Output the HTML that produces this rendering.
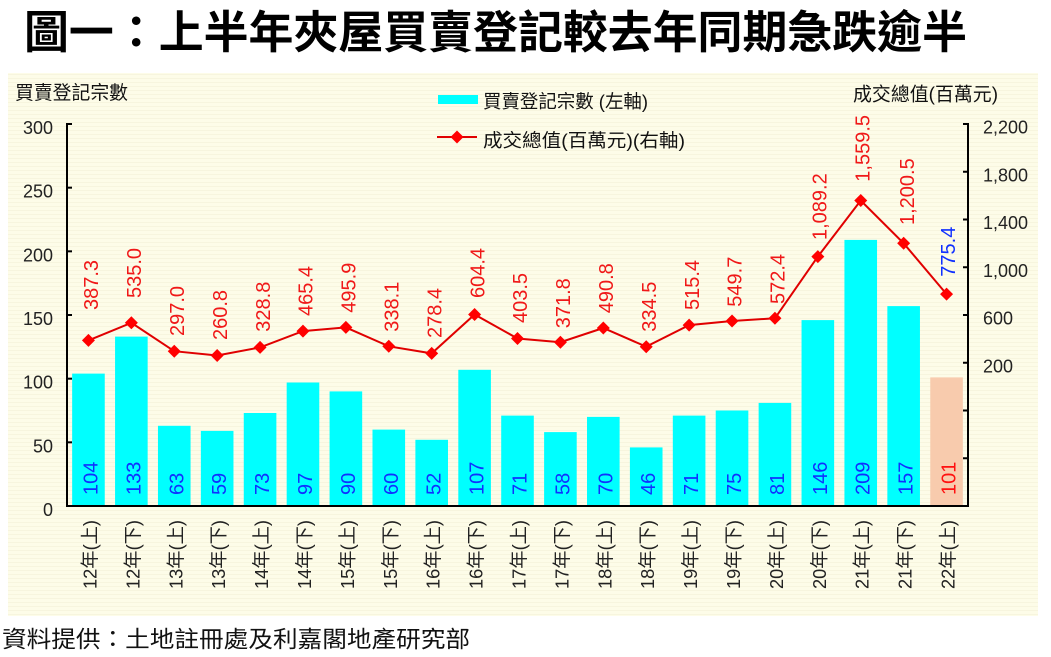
<!DOCTYPE html>
<html>
<head>
<meta charset="utf-8">
<style>
html,body{margin:0;padding:0;background:#fff;}
body{width:1051px;height:657px;overflow:hidden;}
svg{display:block;}
text{font-family:"Liberation Sans","Noto Sans CJK TC",sans-serif;}
</style>
</head>
<body>
<svg width="1051" height="657" viewBox="0 0 1051 657" xmlns="http://www.w3.org/2000/svg">
<defs>
<pattern id="stripe" width="4" height="4" patternUnits="userSpaceOnUse">
<rect width="4" height="4" fill="#FDFCE8"/>
<rect y="2" width="4" height="1" fill="#F7F5DE"/>
</pattern>
</defs>
<rect x="0" y="0" width="1051" height="657" fill="#ffffff"/>
<!-- Title -->
<text x="24" y="48" font-size="45" font-weight="bold" fill="#000" textLength="943" lengthAdjust="spacingAndGlyphs" style="font-family:'Noto Sans CJK TC','Noto Sans CJK SC',sans-serif;">圖一：上半年夾屋買賣登記較去年同期急跌逾半</text>
<!-- Panel -->
<rect x="8" y="73" width="1030" height="543" fill="url(#stripe)"/>

<!-- Axis titles -->
<text x="15" y="99" font-size="19" fill="#111" textLength="113" lengthAdjust="spacingAndGlyphs">買賣登記宗數</text>
<text x="853" y="100.5" font-size="19" fill="#111" textLength="145" lengthAdjust="spacingAndGlyphs">成交總值(百萬元)</text>

<!-- Legend -->
<rect x="438" y="95" width="40" height="9" fill="#00FFFF"/>
<text x="483" y="108" font-size="18.5" fill="#111" textLength="165" lengthAdjust="spacingAndGlyphs">買賣登記宗數 (左軸)</text>
<line x1="437" y1="137" x2="477" y2="137" stroke="#E00000" stroke-width="2"/>
<polygon points="457,130.5 463.5,137 457,143.5 450.5,137" fill="#FF0000"/>
<text x="483" y="147" font-size="18.5" fill="#111" textLength="202" lengthAdjust="spacingAndGlyphs">成交總值(百萬元)(右軸)</text>

<!-- Bars -->
<g fill="#00FFFF">
<rect x="72.15" y="373.6" width="32.6" height="132.4"/>
<rect x="115.06" y="336.6" width="32.6" height="169.4"/>
<rect x="157.96" y="425.8" width="32.6" height="80.2"/>
<rect x="200.87" y="430.9" width="32.6" height="75.1"/>
<rect x="243.77" y="413.0" width="32.6" height="93.0"/>
<rect x="286.68" y="382.5" width="32.6" height="123.5"/>
<rect x="329.58" y="391.4" width="32.6" height="114.6"/>
<rect x="372.49" y="429.6" width="32.6" height="76.4"/>
<rect x="415.39" y="439.8" width="32.6" height="66.2"/>
<rect x="458.30" y="369.8" width="32.6" height="136.2"/>
<rect x="501.20" y="415.6" width="32.6" height="90.4"/>
<rect x="544.11" y="432.1" width="32.6" height="73.9"/>
<rect x="587.01" y="416.9" width="32.6" height="89.1"/>
<rect x="629.92" y="447.4" width="32.6" height="58.6"/>
<rect x="672.82" y="415.6" width="32.6" height="90.4"/>
<rect x="715.73" y="410.5" width="32.6" height="95.5"/>
<rect x="758.63" y="402.9" width="32.6" height="103.1"/>
<rect x="801.54" y="320.1" width="32.6" height="185.9"/>
<rect x="844.44" y="239.9" width="32.6" height="266.1"/>
<rect x="887.35" y="306.1" width="32.6" height="199.9"/>
</g>
<rect x="930.25" y="377.4" width="32.6" height="128.6" fill="#F8CBAD"/>

<!-- Bar value labels -->
<g font-size="20" fill="#1030FF">
<text transform="translate(97.45,495) rotate(-90)">104</text>
<text transform="translate(140.36,495) rotate(-90)">133</text>
<text transform="translate(183.26,495) rotate(-90)">63</text>
<text transform="translate(226.17,495) rotate(-90)">59</text>
<text transform="translate(269.07,495) rotate(-90)">73</text>
<text transform="translate(311.98,495) rotate(-90)">97</text>
<text transform="translate(354.88,495) rotate(-90)">90</text>
<text transform="translate(397.79,495) rotate(-90)">60</text>
<text transform="translate(440.69,495) rotate(-90)">52</text>
<text transform="translate(483.60,495) rotate(-90)">107</text>
<text transform="translate(526.50,495) rotate(-90)">71</text>
<text transform="translate(569.41,495) rotate(-90)">58</text>
<text transform="translate(612.31,495) rotate(-90)">70</text>
<text transform="translate(655.22,495) rotate(-90)">46</text>
<text transform="translate(698.12,495) rotate(-90)">71</text>
<text transform="translate(741.03,495) rotate(-90)">75</text>
<text transform="translate(783.93,495) rotate(-90)">81</text>
<text transform="translate(826.84,495) rotate(-90)">146</text>
<text transform="translate(869.74,495) rotate(-90)">209</text>
<text transform="translate(912.65,495) rotate(-90)">157</text>
</g>
<text transform="translate(955.55,495) rotate(-90)" font-size="20" fill="#FF1010">101</text>

<!-- Axes -->
<g stroke="#000" stroke-width="2" fill="none">
<line x1="67" y1="123" x2="67" y2="507"/>
<line x1="66" y1="506" x2="969" y2="506"/>
<line x1="968" y1="123" x2="968" y2="507"/>
<!-- left ticks -->
<line x1="67" y1="124" x2="72" y2="124"/>
<line x1="67" y1="187.67" x2="72" y2="187.67"/>
<line x1="67" y1="251.33" x2="72" y2="251.33"/>
<line x1="67" y1="315" x2="72" y2="315"/>
<line x1="67" y1="378.67" x2="72" y2="378.67"/>
<line x1="67" y1="442.33" x2="72" y2="442.33"/>
<!-- right ticks -->
<line x1="963" y1="124" x2="968" y2="124"/>
<line x1="963" y1="171.75" x2="968" y2="171.75"/>
<line x1="963" y1="219.5" x2="968" y2="219.5"/>
<line x1="963" y1="267.25" x2="968" y2="267.25"/>
<line x1="963" y1="315" x2="968" y2="315"/>
<line x1="963" y1="362.75" x2="968" y2="362.75"/>
<line x1="963" y1="410.5" x2="968" y2="410.5"/>
<line x1="963" y1="458.25" x2="968" y2="458.25"/>
</g>

<!-- Left tick labels -->
<g font-size="18" fill="#222" text-anchor="end">
<text x="53" y="134">300</text>
<text x="53" y="197.7">250</text>
<text x="53" y="261.3">200</text>
<text x="53" y="325">150</text>
<text x="53" y="388.7">100</text>
<text x="53" y="452.3">50</text>
<text x="53" y="516">0</text>
</g>
<!-- Right tick labels -->
<g font-size="18" fill="#222">
<text x="983" y="133.5">2,200</text>
<text x="983" y="181.25">1,800</text>
<text x="983" y="229">1,400</text>
<text x="983" y="276.75">1,000</text>
<text x="983" y="324.5">600</text>
<text x="983" y="372.25">200</text>
</g>

<!-- Line series -->
<polyline fill="none" stroke="#E00000" stroke-width="2" points="88.45,340.4 131.36,322.8 174.26,351.2 217.17,355.5 260.07,347.4 302.98,331.1 345.88,327.4 388.79,346.3 431.69,353.4 474.60,314.5 517.50,338.5 560.41,342.2 603.31,328.0 646.22,346.7 689.12,325.1 732.03,321.0 774.93,318.3 817.84,256.6 860.74,200.5 903.65,243.3 946.55,294.1"/>
<g fill="#FF0000">
<polygon points="88.45,333.9 94.95,340.4 88.45,346.9 81.95,340.4"/>
<polygon points="131.36,316.3 137.86,322.8 131.36,329.3 124.86,322.8"/>
<polygon points="174.26,344.7 180.76,351.2 174.26,357.7 167.76,351.2"/>
<polygon points="217.17,349.0 223.67,355.5 217.17,362.0 210.67,355.5"/>
<polygon points="260.07,340.9 266.57,347.4 260.07,353.9 253.57,347.4"/>
<polygon points="302.98,324.6 309.48,331.1 302.98,337.6 296.48,331.1"/>
<polygon points="345.88,320.9 352.38,327.4 345.88,333.9 339.38,327.4"/>
<polygon points="388.79,339.8 395.29,346.3 388.79,352.8 382.29,346.3"/>
<polygon points="431.69,346.9 438.19,353.4 431.69,359.9 425.19,353.4"/>
<polygon points="474.60,308.0 481.10,314.5 474.60,321.0 468.10,314.5"/>
<polygon points="517.50,332.0 524.00,338.5 517.50,345.0 511.00,338.5"/>
<polygon points="560.41,335.7 566.91,342.2 560.41,348.7 553.91,342.2"/>
<polygon points="603.31,321.5 609.81,328.0 603.31,334.5 596.81,328.0"/>
<polygon points="646.22,340.2 652.72,346.7 646.22,353.2 639.72,346.7"/>
<polygon points="689.12,318.6 695.62,325.1 689.12,331.6 682.62,325.1"/>
<polygon points="732.03,314.5 738.53,321.0 732.03,327.5 725.53,321.0"/>
<polygon points="774.93,311.8 781.43,318.3 774.93,324.8 768.43,318.3"/>
<polygon points="817.84,250.1 824.34,256.6 817.84,263.1 811.34,256.6"/>
<polygon points="860.74,194.0 867.24,200.5 860.74,207.0 854.24,200.5"/>
<polygon points="903.65,236.8 910.15,243.3 903.65,249.8 897.15,243.3"/>
<polygon points="946.55,287.6 953.05,294.1 946.55,300.6 940.05,294.1"/>
</g>

<!-- Line value labels -->
<g font-size="20" fill="#F01818">
<text transform="translate(98.2,310) rotate(-90)">387.3</text>
<text transform="translate(141.1,298) rotate(-90)">535.0</text>
<text transform="translate(184.0,336) rotate(-90)">297.0</text>
<text transform="translate(226.9,340) rotate(-90)">260.8</text>
<text transform="translate(269.8,331.7) rotate(-90)">328.8</text>
<text transform="translate(312.7,316) rotate(-90)">465.4</text>
<text transform="translate(355.6,312.7) rotate(-90)">495.9</text>
<text transform="translate(398.5,331.7) rotate(-90)">338.1</text>
<text transform="translate(441.4,338) rotate(-90)">278.4</text>
<text transform="translate(484.3,298) rotate(-90)">604.4</text>
<text transform="translate(527.2,323) rotate(-90)">403.5</text>
<text transform="translate(570.1,328.3) rotate(-90)">371.8</text>
<text transform="translate(613.0,313.3) rotate(-90)">490.8</text>
<text transform="translate(655.9,331.7) rotate(-90)">334.5</text>
<text transform="translate(698.8,310) rotate(-90)">515.4</text>
<text transform="translate(741.7,306.7) rotate(-90)">549.7</text>
<text transform="translate(784.6,304) rotate(-90)">572.4</text>
<text transform="translate(826.5,240) rotate(-90)">1,089.2</text>
<text transform="translate(869.4,181.7) rotate(-90)">1,559.5</text>
<text transform="translate(913.8,225) rotate(-90)">1,200.5</text>
</g>
<text transform="translate(955.2,276.7) rotate(-90)" font-size="20" fill="#1030FF">775.4</text>

<!-- Category labels -->
<g font-size="18.5" fill="#222" text-anchor="end">
<text transform="translate(96.45,520) rotate(-90)" textLength="69" lengthAdjust="spacingAndGlyphs">12年(上)</text>
<text transform="translate(139.36,520) rotate(-90)" textLength="69" lengthAdjust="spacingAndGlyphs">12年(下)</text>
<text transform="translate(182.26,520) rotate(-90)" textLength="69" lengthAdjust="spacingAndGlyphs">13年(上)</text>
<text transform="translate(225.17,520) rotate(-90)" textLength="69" lengthAdjust="spacingAndGlyphs">13年(下)</text>
<text transform="translate(268.07,520) rotate(-90)" textLength="69" lengthAdjust="spacingAndGlyphs">14年(上)</text>
<text transform="translate(310.98,520) rotate(-90)" textLength="69" lengthAdjust="spacingAndGlyphs">14年(下)</text>
<text transform="translate(353.88,520) rotate(-90)" textLength="69" lengthAdjust="spacingAndGlyphs">15年(上)</text>
<text transform="translate(396.79,520) rotate(-90)" textLength="69" lengthAdjust="spacingAndGlyphs">15年(下)</text>
<text transform="translate(439.69,520) rotate(-90)" textLength="69" lengthAdjust="spacingAndGlyphs">16年(上)</text>
<text transform="translate(482.60,520) rotate(-90)" textLength="69" lengthAdjust="spacingAndGlyphs">16年(下)</text>
<text transform="translate(525.50,520) rotate(-90)" textLength="69" lengthAdjust="spacingAndGlyphs">17年(上)</text>
<text transform="translate(568.41,520) rotate(-90)" textLength="69" lengthAdjust="spacingAndGlyphs">17年(下)</text>
<text transform="translate(611.31,520) rotate(-90)" textLength="69" lengthAdjust="spacingAndGlyphs">18年(上)</text>
<text transform="translate(654.22,520) rotate(-90)" textLength="69" lengthAdjust="spacingAndGlyphs">18年(下)</text>
<text transform="translate(697.12,520) rotate(-90)" textLength="69" lengthAdjust="spacingAndGlyphs">19年(上)</text>
<text transform="translate(740.03,520) rotate(-90)" textLength="69" lengthAdjust="spacingAndGlyphs">19年(下)</text>
<text transform="translate(782.93,520) rotate(-90)" textLength="69" lengthAdjust="spacingAndGlyphs">20年(上)</text>
<text transform="translate(825.84,520) rotate(-90)" textLength="69" lengthAdjust="spacingAndGlyphs">20年(下)</text>
<text transform="translate(868.74,520) rotate(-90)" textLength="69" lengthAdjust="spacingAndGlyphs">21年(上)</text>
<text transform="translate(911.65,520) rotate(-90)" textLength="69" lengthAdjust="spacingAndGlyphs">21年(下)</text>
<text transform="translate(954.55,520) rotate(-90)" textLength="69" lengthAdjust="spacingAndGlyphs">22年(上)</text>
</g>

<!-- Source -->
<text x="2" y="647" font-size="23" fill="#111" textLength="468" lengthAdjust="spacingAndGlyphs">資料提供：土地註冊處及利嘉閣地產研究部</text>
</svg>
</body>
</html>
